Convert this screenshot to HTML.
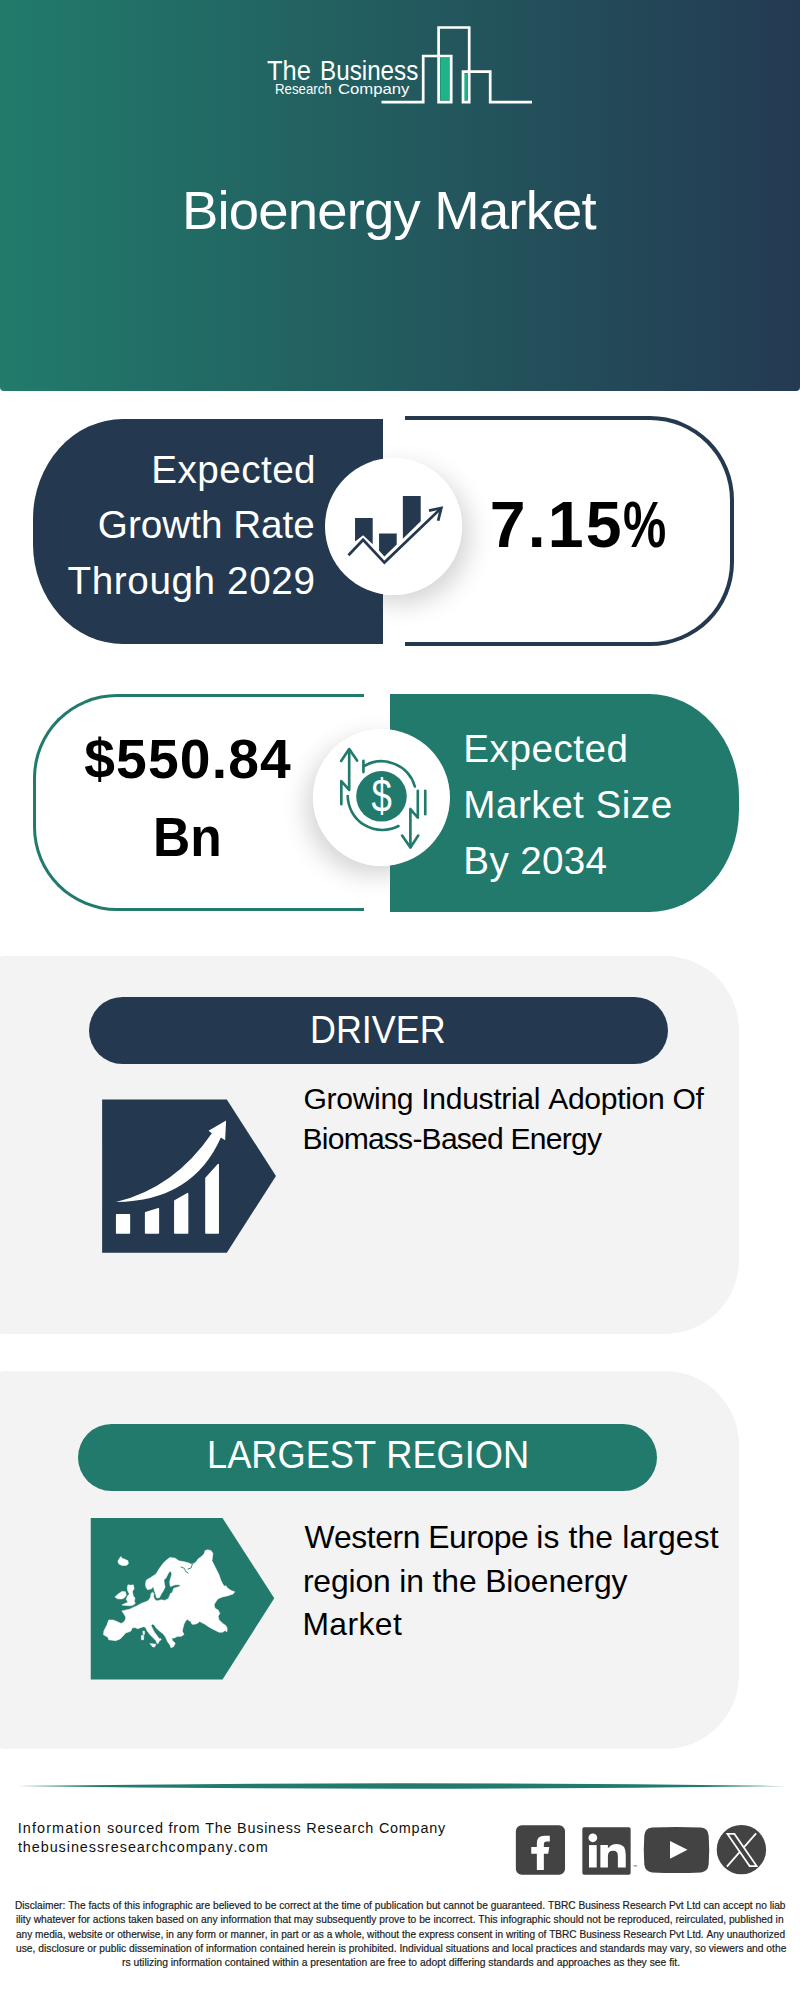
<!DOCTYPE html>
<html lang="en"><head><meta charset="utf-8"><title>Bioenergy Market</title>
<style>
html,body{margin:0;padding:0}
body{width:800px;height:2000px;position:relative;background:#fff;overflow:hidden;
 font-family:"Liberation Sans",sans-serif;font-kerning:none}
.a{position:absolute}
.t{position:absolute;white-space:nowrap;margin:0;padding:0}
svg{position:absolute;overflow:visible}
</style></head><body>

<div class="a" style="left:0;top:0;width:800px;height:390.5px;border-radius:0 0 4px 4px;background:linear-gradient(90deg,#217b6b 0%,#243a52 100%)"></div>
<svg style="left:0;top:0" width="800" height="120" viewBox="0 0 800 120">
<rect x="440.3" y="57.5" width="9.7" height="43" fill="#1fb487"/>
<rect x="463.9" y="73.3" width="3.6" height="27.3" fill="#1fb487"/>
<path d="M381.5 102.1H423.2V56H451.2V102.1H438.6V27.5H469.2V102.1H463V71.7H490.2V102.1H532" fill="none" stroke="#fff" stroke-width="2.7" stroke-linejoin="miter"/>
</svg>
<div class="t" style="left:266.83px;top:56px;font-size:26.74px;line-height:30px;transform:scaleX(0.9527);transform-origin:0 0;color:#fff;">The</div>
<div class="t" style="left:319.61px;top:56px;font-size:26.74px;line-height:30px;transform:scaleX(0.9064);transform-origin:0 0;color:#fff;">Business</div>
<div class="t" style="left:274.61px;top:81px;font-size:14.10px;line-height:16px;transform:scaleX(0.9388);transform-origin:0 0;color:#fff;">Research</div>
<div class="t" style="left:337.55px;top:81px;font-size:14.10px;line-height:16px;transform:scaleX(1.1846);transform-origin:0 0;color:#fff;">Company</div>
<div class="t" style="left:182.03px;top:180px;font-size:54.51px;line-height:61px;letter-spacing:-0.826px;color:#fff;">Bioenergy Market</div>
<div class="a" style="left:325.3px;top:458.4px;width:137px;height:136.4px;border-radius:50%;box-shadow:8px 9px 24px rgba(0,0,0,0.17)"></div>
<div class="a" style="left:32.8px;top:419px;width:350.1px;height:224.6px;background:#24384f;border-radius:90px 0 0 90px / 100px 0 0 100px"></div>
<div class="a" style="left:405px;top:416.4px;width:328.75px;height:229.4px;box-sizing:border-box;border:4px solid #24384f;border-left:none;border-radius:0 84px 84px 0"></div>
<div class="t" style="left:151.33px;top:448px;font-size:38.66px;line-height:43px;letter-spacing:0.437px;color:#fff;">Expected</div>
<div class="t" style="left:97.86px;top:503px;font-size:38.66px;line-height:43px;letter-spacing:-0.007px;color:#fff;">Growth Rate</div>
<div class="t" style="left:67.53px;top:559px;font-size:38.66px;line-height:43px;letter-spacing:0.604px;color:#fff;">Through 2029</div>
<div class="t" style="left:489.83px;top:489px;font-size:64.39px;line-height:72px;letter-spacing:2.179px;font-weight:700;color:#000;">7.15</div>
<div class="t" style="left:622.79px;top:489px;font-size:64.39px;line-height:72px;transform:scaleX(0.7544);transform-origin:0 0;font-weight:700;color:#000;">%</div>
<div class="a" style="left:325.3px;top:458.4px;width:137px;height:136.4px;border-radius:50%;background:#fff"></div>
<svg style="left:310px;top:440px" width="170" height="180" viewBox="0 0 800 847">
<g fill="#24384f">
<polygon points="212,367 295,367 295,490 250,448 212,478"/>
<polygon points="325,440 408,440 408,492 350,548 325,520"/>
<polygon points="437,264 521,264 521,382 437,465"/>
</g>
<g fill="none" stroke="#24384f" stroke-width="13" stroke-linejoin="miter">
<polyline points="181,542 250,470 350,577 614,324"/>
<polyline points="560,332 618,320 603,380"/>
</g>
</svg>
<div class="a" style="left:313px;top:729px;width:137px;height:137px;border-radius:50%;box-shadow:-7px 9px 24px rgba(0,0,0,0.17)"></div>
<div class="a" style="left:32.6px;top:694px;width:331.4px;height:217.2px;box-sizing:border-box;border:3.8px solid #217a6b;border-right:none;border-radius:84px 0 0 84px"></div>
<div class="a" style="left:389.5px;top:694px;width:349.7px;height:217.5px;background:#217a6b;border-radius:0 90px 90px 0 / 0 102px 102px 0"></div>
<div class="t" style="left:84.27px;top:728px;font-size:55.23px;line-height:62px;letter-spacing:1.145px;font-weight:700;color:#000;">$550.84</div>
<div class="t" style="left:152.95px;top:806px;font-size:55.23px;line-height:62px;transform:scaleX(0.9337);transform-origin:0 0;font-weight:700;color:#000;">Bn</div>
<div class="t" style="left:463.33px;top:727px;font-size:38.66px;line-height:43px;letter-spacing:0.494px;color:#fff;">Expected</div>
<div class="t" style="left:463.33px;top:783px;font-size:38.66px;line-height:43px;letter-spacing:0.477px;color:#fff;">Market Size</div>
<div class="t" style="left:463.33px;top:839px;font-size:38.66px;line-height:43px;letter-spacing:0.322px;color:#fff;">By 2034</div>
<div class="a" style="left:313px;top:729px;width:137px;height:137px;border-radius:50%;background:#fff"></div>
<svg style="left:295px;top:710px" width="170" height="180" viewBox="0 0 800 847">
<circle cx="407" cy="406" r="119" fill="#217a6b"/>
<g fill="none" stroke="#217a6b" stroke-width="12.5" stroke-linecap="round" stroke-linejoin="round">
<path d="M322,239V292"/>
<path d="M325,264A163,163 0 0 1 564,360"/>
<path d="M248,405A163,163 0 0 0 487,546"/>
<path d="M218,443V335L255,376V186"/>
<path d="M217,240L255,184L292,238"/>
<path d="M578,380V507L543,466V645"/>
<path d="M504,591L543,647L580,591"/>
<path d="M613,380V490"/>
</g>
<text transform="translate(408,481) scale(0.8,1)" x="0" y="0" font-family="Liberation Sans, sans-serif" font-size="215" text-anchor="middle" fill="#fff">$</text>
</svg>
<div class="a" style="left:-4px;top:956px;width:743px;height:377.5px;background:#f3f3f3;border-radius:8px 74px 74px 8px"></div>
<div class="a" style="left:89px;top:996.5px;width:579px;height:67px;background:#24384f;border-radius:34px"></div>
<div class="t" style="left:310.45px;top:1008px;font-size:38.37px;line-height:43px;transform:scaleX(0.9360);transform-origin:0 0;color:#fff;">DRIVER</div>
<svg style="left:95px;top:1090px" width="190" height="170" viewBox="0 0 800 716">
<polygon points="30,40 555,40 762,362 555,685 30,685" fill="#24384f"/>
<g fill="#fff" stroke="#fff" stroke-width="6" stroke-linejoin="round">
<polygon points="91,525 145,525 145,602 91,602"/>
<polygon points="213,517 267,500 267,602 213,602"/>
<polygon points="336,467 390,436 390,602 336,602"/>
<polygon points="467,372 519,314 519,602 467,602"/>
</g>
<path d="M88,472Q335,412 492,182L478,172L552,128L548,212L530,200Q412,468 88,472Z" fill="#fff"/>
</svg>
<div class="t" style="left:303.49px;top:1082px;font-size:30.09px;line-height:33px;letter-spacing:-0.320px;color:#000;">Growing Industrial Adoption Of</div>
<div class="t" style="left:302.53px;top:1122px;font-size:30.09px;line-height:33px;letter-spacing:-0.782px;color:#000;">Biomass-Based Energy</div>
<div class="a" style="left:-4px;top:1371px;width:743px;height:377.5px;background:#f3f3f3;border-radius:8px 74px 74px 8px"></div>
<div class="a" style="left:77.5px;top:1424.2px;width:579.5px;height:66.5px;background:#217a6b;border-radius:34px"></div>
<div class="t" style="left:206.73px;top:1433px;font-size:38.23px;line-height:43px;transform:scaleX(0.9481);transform-origin:0 0;color:#fff;">LARGEST REGION</div>
<svg style="left:85px;top:1510px" width="200" height="180" viewBox="0 0 800 720">
<polygon points="23,32 550,32 757,353 550,678 23,678" fill="#217a6b"/>
</svg>
<svg style="left:100px;top:1540px" width="140" height="112" viewBox="0 0 800 640">
<g fill="#fff" stroke="#fff" stroke-width="3" stroke-linejoin="round">
<path d="M50,457L75,457L100,467L120,477L135,470L145,455L147,440L135,420L125,405L150,400L170,395L190,385L210,377L230,365L250,357L270,350L280,340L288,328L292,305L300,298L308,305L306,325L312,338L325,348L350,342L370,345L390,335L398,318L402,306L412,302L418,285L422,275L450,267L460,258L450,255L430,256L402,266L398,240L404,215L410,195L405,180L398,178L388,195L378,215L365,229L368,250L372,269L362,290L350,309L340,329L330,332L322,328L318,310L310,289L305,264L295,279L272,284L262,269L260,249L265,229L290,214L320,194L335,169L360,134L380,114L400,100L430,104L450,119L480,124L508,131L520,138L535,135L550,124L560,109L580,94L595,79L600,61L615,56L635,61L645,76L640,119L660,159L680,199L690,229L700,249L710,264L720,261L728,274L750,289L770,296L760,309L730,319L700,325L675,335L660,355L652,370L657,390L675,400L685,420L675,435L680,455L700,475L720,490L727,505L725,525L715,517L700,527L680,527L660,517L640,507L620,495L600,482L580,472L570,465L565,470L555,477L540,482L527,482L520,472L522,465L507,461L502,452L490,462L480,480L475,500L470,520L480,540L465,550L440,552L425,560L410,560L415,575L430,590L420,610L405,615L400,600L385,580L375,555L360,535L340,520L320,502L310,485L300,480L292,490L300,505L310,525L325,545L340,565L345,562L350,570L340,575L332,592L325,590L320,575L305,560L285,540L270,520L260,500L250,495L235,500L215,507L200,500L185,502L175,522L145,532L135,545L115,565L90,575L50,570L45,555L20,542L22,520L40,485Z"/>
<path d="M102,121L112,104L120,94L125,104L145,111L160,119L162,136L150,145L125,146L107,136Z"/>
<path d="M85,326L100,312L125,294L145,296L150,314L140,330L125,337L100,336Z"/>
<path d="M160,256L175,259L190,256L195,279L185,294L190,320L200,332L196,350L202,362L190,372L172,376L150,374L125,372L140,364L160,356L150,340L156,322L168,308L158,290L156,272Z"/>
<path d="M245,520L255,522L254,540L246,540ZM236,546L250,545L249,570L237,570Z"/>
<path d="M285,592L320,595L312,612L300,610Z"/>
</g>
<g fill="none" stroke="#217a6b" stroke-width="5" stroke-linecap="round" stroke-linejoin="round">
<path d="M463,154L482,162L490,180L503,188"/>
<path d="M502,166L520,160L528,138"/>
</g>
</svg>

<div class="t" style="left:304.46px;top:1519px;font-size:31.83px;line-height:36px;letter-spacing:-0.435px;color:#000;">Western Europe</div>
<div class="t" style="left:536.27px;top:1519px;font-size:31.83px;line-height:36px;letter-spacing:0.146px;color:#000;">is the largest</div>
<div class="t" style="left:302.89px;top:1563px;font-size:31.83px;line-height:36px;letter-spacing:-0.123px;color:#000;">region in the Bioenergy</div>
<div class="t" style="left:302.39px;top:1606px;font-size:31.83px;line-height:36px;letter-spacing:0.432px;color:#000;">Market</div>
<svg style="left:0;top:1770px" width="800" height="30" viewBox="0 1770 800 30">
<path d="M17,1786Q400,1780.5 785,1786Q400,1791.5 17,1786Z" fill="#217a6b"/>
</svg>
<div class="t" style="left:17.67px;top:1820px;font-size:14.39px;line-height:16px;letter-spacing:1.128px;color:#111;">Information</div>
<div class="t" style="left:107.10px;top:1820px;font-size:14.39px;line-height:16px;letter-spacing:0.781px;color:#111;">sourced from The Business Research Company</div>
<div class="t" style="left:17.88px;top:1839px;font-size:14.39px;line-height:16px;letter-spacing:0.952px;color:#111;">thebusinessresearchcompany.com</div>
<svg style="left:505px;top:1815px" width="270" height="70" viewBox="0 0 1542.9 400">
<g fill="#434343">
<rect x="62" y="58" width="281" height="284" rx="34"/>
<rect x="442" y="70" width="276" height="272" rx="10"/>
<path d="M840,72Q980,64 1120,72Q1160,76 1164,118Q1170,200 1164,282Q1160,324 1120,328Q980,336 840,328Q800,324 796,282Q790,200 796,118Q800,76 840,72Z"/>
<circle cx="1351" cy="198" r="141"/>
</g>
<g fill="#fff">
<path d="M182,315V222H150V183H182V160Q182,118 226,118H256V152H238Q222,152 222,168V183H253L247,222H222V315Z"/>
<circle cx="502" cy="130" r="25"/>
<rect x="480" y="172" width="44" height="128"/>
<path d="M545,172H588V190Q606,165 640,165Q690,165 690,226V300H645V234Q645,205 618,205Q588,205 588,236V300H545Z"/>
<polygon points="943,148 943,250 1043,198"/>
</g>
<g fill="none" stroke="#fff" stroke-width="10">
<path d="M1435,105L1268,295"/>
<polygon points="1271,108 1311,108 1438,292 1398,292" fill="#434343"/>
</g>
<text x="730" y="305" font-family="Liberation Sans, sans-serif" font-size="26" fill="#434343">™</text>
</svg>

<div class="t" style="left:15.41px;top:1899px;font-size:10.90px;line-height:12px;transform:scaleX(0.9345);transform-origin:0 0;color:#1c1c1c;-webkit-text-stroke:0.2px #1c1c1c;">Disclaimer: The facts of this infographic are believed to be correct at the time of publication but cannot be guaranteed. TBRC Business Research Pvt Ltd can accept no liab</div>
<div class="t" style="left:15.56px;top:1913px;font-size:10.90px;line-height:12px;transform:scaleX(0.9406);transform-origin:0 0;color:#1c1c1c;-webkit-text-stroke:0.2px #1c1c1c;">ility whatever for actions taken based on any information that may subsequently prove to be incorrect. This infographic should not be reproduced, reirculated, published in</div>
<div class="t" style="left:15.82px;top:1928px;font-size:10.90px;line-height:12px;transform:scaleX(0.9281);transform-origin:0 0;color:#1c1c1c;-webkit-text-stroke:0.2px #1c1c1c;">any media, website or otherwise, in any form or manner, in part or as a whole, without the express consent in writing of TBRC Business Research Pvt Ltd. Any unauthorized</div>
<div class="t" style="left:15.58px;top:1942px;font-size:10.90px;line-height:12px;transform:scaleX(0.9426);transform-origin:0 0;color:#1c1c1c;-webkit-text-stroke:0.2px #1c1c1c;">use, disclosure or public dissemination of information contained herein is prohibited. Individual situations and local practices and standards may vary, so viewers and othe</div>
<div class="t" style="left:121.81px;top:1956px;font-size:10.90px;line-height:12px;transform:scaleX(0.9484);transform-origin:0 0;color:#1c1c1c;-webkit-text-stroke:0.2px #1c1c1c;">rs utilizing information contained within a presentation are free to adopt differing standards and approaches as they see fit.</div>
</body></html>
